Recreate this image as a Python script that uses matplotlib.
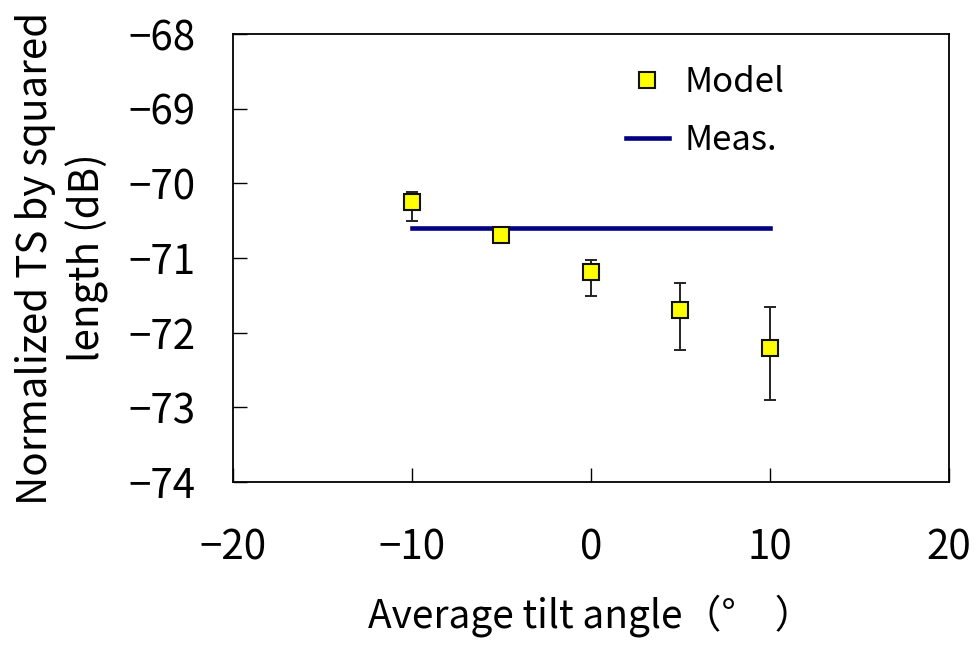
import numpy as np
import matplotlib
matplotlib.use("Agg")
import matplotlib.pyplot as plt

# Normalized TS vs tilt angle: model points with error bars, measured level as a line

tilt = [-10, -5, 0, 5, 10]
model_ts = [-70.25, -70.69, -71.19, -71.70, -72.21]
err_upper = [-70.12, -70.62, -71.02, -71.33, -71.65]
err_lower = [-70.50, -70.76, -71.51, -72.23, -72.90]

meas_x = [-10, 10]
meas_ts = [-70.6, -70.6]

xticks = [-20, -10, 0, 10, 20]
yticks = [-74, -73, -72, -71, -70, -69, -68]

plt.rcParams['font.family'] = ['Noto Sans CJK JP', 'DejaVu Sans']
plt.rcParams['axes.unicode_minus'] = True

fig = plt.figure(figsize=(9.75, 6.46), dpi=100)
ax = fig.add_axes([0.239, 0.254, 0.734, 0.693])

yerr = np.array([np.array(model_ts) - np.array(err_lower),
                 np.array(err_upper) - np.array(model_ts)])

ax.plot(meas_x, meas_ts, color="#000080", linewidth=3.3, label="Meas.", zorder=2)
ax.errorbar(tilt, model_ts, yerr=yerr, fmt="none", ecolor="#222222",
            elinewidth=1.4, capsize=4.3, capthick=1.4, zorder=3)
ax.plot(tilt, model_ts, linestyle="none", marker="s", markersize=11,
        markerfacecolor="#ffff00", markeredgecolor="#111111",
        markeredgewidth=1.5, label="Model", zorder=4)

ax.set_xlim(-20, 20)
ax.set_ylim(-74, -68)
ax.set_xticks(xticks)
ax.set_yticks(yticks)
ax.tick_params(direction="in", length=10, width=1, labelsize=29)
ax.tick_params(axis="x", pad=33)
ax.tick_params(axis="y", pad=27)
for s in ax.spines.values():
    s.set_linewidth(1.3)

ax.set_xlabel("Average tilt angle（°　）", fontsize=28, labelpad=18)
ax.set_ylabel("Normalized TS by squared\nlength (dB)", fontsize=29, labelpad=14,
              linespacing=1.3)

h, l = ax.get_legend_handles_labels()
ax.legend(h[::-1], l[::-1], loc="upper left", bbox_to_anchor=(0.505, 1.0),
          frameon=False, fontsize=25, handlelength=1.25, handletextpad=0.45,
          labelspacing=0.65)

plt.savefig("out.png", dpi=100)
